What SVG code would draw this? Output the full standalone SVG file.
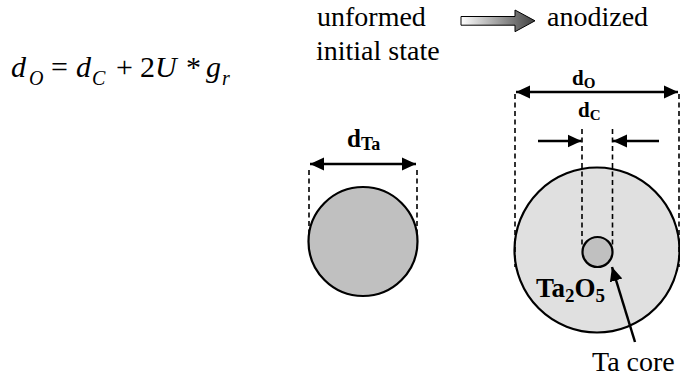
<svg xmlns="http://www.w3.org/2000/svg" width="680" height="376" viewBox="0 0 680 376">
<defs>
<style>
.t{font-family:'Liberation Serif','DejaVu Serif','Noto Serif',serif;fill:#000}
.it{font-style:italic}
.b{font-weight:bold}
.dash{stroke:#000;stroke-width:1.6;stroke-dasharray:5,3.5;fill:none}
.dim{stroke:#000;stroke-width:2.5;fill:none}
.circ{stroke:#000;stroke-width:2.2}
</style>
<marker id="ah" markerUnits="userSpaceOnUse" markerWidth="15" markerHeight="14" refX="14" refY="7" orient="auto-start-reverse" viewBox="0 0 15 14">
<path d="M0,0.5 L14,7 L0,13.5 z" fill="#000"/>
</marker>
<linearGradient id="grad" x1="0" y1="0" x2="1" y2="0">
<stop offset="0" stop-color="#ffffff"/>
<stop offset="1" stop-color="#404040"/>
</linearGradient>
</defs>

<g id="formula">
<text class="t it" x="11" y="77" font-size="30">d</text>
<text class="t it" x="29" y="85" font-size="20">O</text>
<text class="t" x="51" y="77" font-size="30">=</text>
<text class="t it" x="76" y="77" font-size="30">d</text>
<text class="t it" x="92" y="85" font-size="20">C</text>
<text class="t" x="116" y="77" font-size="30">+</text>
<text class="t" x="140" y="77" font-size="30">2</text>
<text class="t it" x="155" y="77" font-size="30">U</text>
<text class="t" x="186" y="77" font-size="30">*</text>
<text class="t it" x="206" y="77" font-size="30">g</text>
<text class="t it" x="222" y="85" font-size="20">r</text>
</g>

<g id="legend">
<text class="t" x="317" y="26" font-size="28">unformed</text>
<text class="t" x="316" y="60" font-size="28">initial state</text>
<polygon points="461,16.5 515,16.5 515,10 535,20.8 515,31.7 515,25.2 461,25.2" fill="url(#grad)" stroke="#000" stroke-width="1"/>
<text class="t" x="547" y="26" font-size="28">anodized</text>
</g>

<g id="node-initial">
<circle cx="363" cy="241.5" r="54.5" fill="#c0c0c0" class="circ"/>
<text class="t b" x="347" y="147" font-size="25">d<tspan font-size="18" y="150">Ta</tspan></text>
</g>

<g id="node-anodized">
<circle cx="597" cy="250" r="82.5" fill="#e0e0e0" class="circ"/>
<circle cx="597.5" cy="252" r="15" fill="#c0c0c0" class="circ"/>
<text class="t b" x="572" y="85" font-size="21">d<tspan font-size="15" y="88">O</tspan></text>
<text class="t b" x="578" y="117" font-size="21">d<tspan font-size="15" y="120">C</tspan></text>
<text class="t b" x="536" y="297" font-size="27">Ta<tspan font-size="19" y="302">2</tspan><tspan y="297">O</tspan><tspan font-size="19" y="302">5</tspan></text>
<text class="t" x="592" y="371" font-size="28">Ta core</text>
</g>

<g id="connectors">
<line x1="309" y1="170" x2="309" y2="236" class="dash"/>
<line x1="417" y1="170" x2="417" y2="236" class="dash"/>
<line x1="310" y1="164" x2="416" y2="164" class="dim" marker-start="url(#ah)" marker-end="url(#ah)"/>
<line x1="515" y1="94" x2="515" y2="267" class="dash"/>
<line x1="679" y1="94" x2="679" y2="267" class="dash"/>
<line x1="516" y1="92" x2="678" y2="92" class="dim" marker-start="url(#ah)" marker-end="url(#ah)"/>
<line x1="582" y1="129" x2="582" y2="248" class="dash" stroke-width="2"/>
<line x1="612.5" y1="129" x2="612.5" y2="248" class="dash" stroke-width="2"/>
<line x1="538" y1="141" x2="581.5" y2="141" class="dim" marker-end="url(#ah)"/>
<line x1="659" y1="141" x2="613" y2="141" class="dim" marker-end="url(#ah)"/>
<line x1="635" y1="342" x2="612" y2="267" class="dim" marker-end="url(#ah)"/>
</g>
</svg>
